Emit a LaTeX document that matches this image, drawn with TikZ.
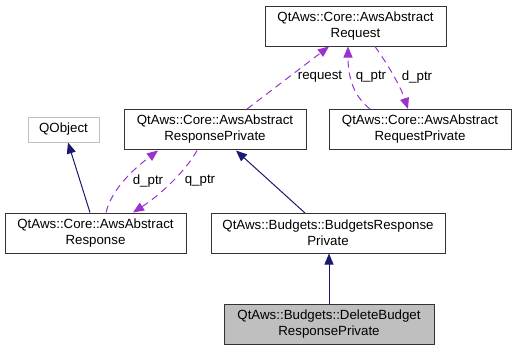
\documentclass[tikz,border=0pt]{standalone}
\usepackage{fontspec}
\setmainfont{Liberation Sans}
\usetikzlibrary{arrows.meta}
\definecolor{edgeblue}{HTML}{191970}
\definecolor{edgepurple}{HTML}{9A32CD}
\definecolor{boxgray}{HTML}{BFBFBF}
\tikzset{
  cls/.style={draw=black!80, line width=1pt, fill=white, align=center, inner sep=0pt,
    minimum height=40pt, font=\fontsize{13.3}{16}\selectfont},
  ext/.style={cls, draw=boxgray, minimum height=25pt},
  cur/.style={cls, fill=boxgray},
  inherit/.style={draw=edgeblue, line width=1pt, -{Triangle[length=11pt,width=9pt]}},
  uses/.style={draw=edgepurple, line width=1pt, dash pattern=on 7pt off 5pt,
    -{Triangle[length=11pt,width=9pt]}},
  lbl/.style={font=\fontsize{13.3}{16}\selectfont, inner sep=0pt}
}
\begin{document}
\begin{tikzpicture}[x=1pt,y=-1pt]
\useasboundingbox (0,0) rectangle (516,351);
% classes
\node[cls, minimum width=181pt] (req) at (355.5,26) {QtAws::Core::AwsAbstract\\Request};
\node[cls, minimum width=182pt] (resppriv) at (215,129.5) {QtAws::Core::AwsAbstract\\ResponsePrivate};
\node[cls, minimum width=182pt] (reqpriv) at (420,129.5) {QtAws::Core::AwsAbstract\\RequestPrivate};
\node[ext, minimum width=71pt] (qobj) at (63.5,129.5) {QObject};
\node[cls, minimum width=181pt] (resp) at (95.5,233) {QtAws::Core::AwsAbstract\\Response};
\node[cls, minimum width=234pt] (budresp) at (328,233) {QtAws::Budgets::BudgetsResponse\\Private};
\node[cur, minimum width=210pt] (delresp) at (329,324) {QtAws::Budgets::DeleteBudget\\ResponsePrivate};
% inheritance
\draw[inherit] (resp.north -| 90,0) -- (qobj.south -| 68,0);
\draw[inherit] (delresp.north) -- (delresp.north |- budresp.south);
\draw[inherit] (resppriv.south -| 236,0) ++(69,63) -- (236,150.5);
% member pointers
\draw[uses] (resppriv.north -| 247,0) -- (329,46.5);
\node[lbl] (lreq) at (320,77) {request};
\draw[uses] (reqpriv.north -| 370,0) .. controls (355,97) and (348,80) .. (348,46.5);
\node[lbl] (lq1) at (371,77) {q\_ptr};
\draw[uses] (375,46.5) .. controls (388,65) and (400,85) .. (reqpriv.north -| 408,0);
\node[lbl] (ld1) at (417,77) {d\_ptr};
\draw[uses] (resp.north -| 106,0) .. controls (112,188) and (135,168) .. (158,150.5);
\node[lbl] (ld2) at (148,181) {d\_ptr};
\draw[uses] (197,150.5) .. controls (185,172) and (160,195) .. (resp.north -| 133,0);
\node[lbl] (lq2) at (200,181) {q\_ptr};
\end{tikzpicture}
\end{document}
